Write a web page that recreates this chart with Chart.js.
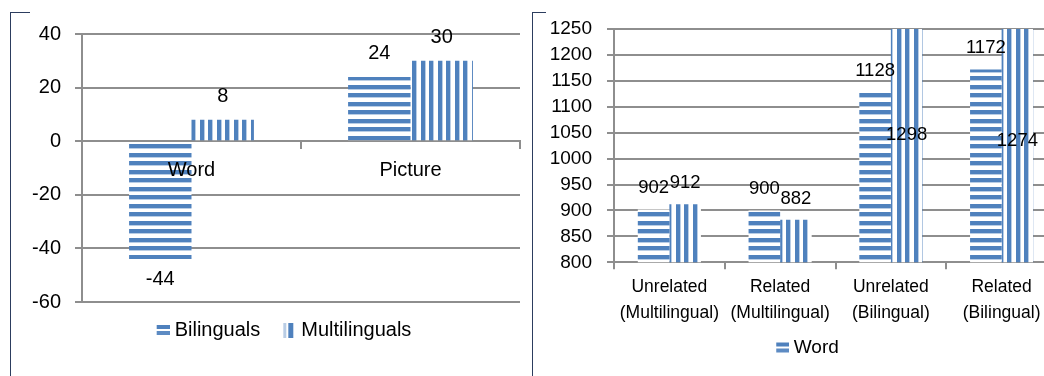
<!DOCTYPE html>
<html>
<head>
<meta charset="utf-8">
<script src="https://cdn.jsdelivr.net/npm/chart.js@4.4.1/dist/chart.umd.min.js"></script>
<style>
  body { margin: 0; background: #fff; width: 1044px; height: 376px; overflow: hidden; position: relative; }
  .wrap { position: absolute; top: 0; }
  .bracket { position: absolute; border-left: 1px solid #2c3d5e; border-top: 1px solid #2c3d5e; }
</style>
</head>
<body>
<div class="bracket" style="left:10px;top:12px;width:19px;height:370px"></div>
<div class="bracket" style="left:532px;top:12px;width:13px;height:370px"></div>
<div class="wrap" style="left:30px"><canvas id="leftChart" width="493" height="376"></canvas></div>
<div class="wrap" style="left:540px"><canvas id="rightChart" width="517" height="376"></canvas></div>
<script>
// left chart: difference scores
const leftCategories = ['Word', 'Picture'];
const bilinguals = [-44, 24];
const multilinguals = [8, 30];
const leftTicks = { min: -60, max: 40, step: 20 };

// right chart: reaction times
const rightCategories = [
  ['Unrelated', '(Multilingual)'],
  ['Related', '(Multilingual)'],
  ['Unrelated', '(Bilingual)'],
  ['Related', '(Bilingual)']
];
const wordTimes = [902, 900, 1128, 1172];
const pictureTimes = [912, 882, 1298, 1274];
const rightTicks = { min: 800, max: 1250, step: 50 };

const BLUE = '#4F81BD';
const LIGHT = '#b9cde5';
const GRID = '#8e8e8e';
const FAMILY = "'Liberation Sans', Arial, sans-serif";

// striped fills
function stripes(vertical) {
  const c = document.createElement('canvas');
  c.width = vertical ? 17 : 4;
  c.height = vertical ? 4 : 17;
  const g = c.getContext('2d');
  g.fillStyle = '#fff';
  g.fillRect(0, 0, c.width, c.height);
  [0, 8].forEach(off => {
    g.fillStyle = BLUE;
    if (vertical) g.fillRect(off, 0, 4, c.height); else g.fillRect(0, off, c.width, 4);
    g.fillStyle = LIGHT;
    if (vertical) g.fillRect(off + 4, 0, 1, c.height); else g.fillRect(0, off + 4, c.width, 1);
  });
  return g.createPattern(c, 'repeat');
}

// legend icons (blank on the left so the gap to the text stays small)
function legendIcon(vertical) {
  const c = document.createElement('canvas');
  c.width = 36;
  c.height = vertical ? 15 : 12;
  const g = c.getContext('2d');
  if (vertical) {
    g.fillStyle = LIGHT;
    g.fillRect(23, 0, 3, 15);
    g.fillStyle = BLUE;
    g.fillRect(28, 0, 5, 15);
  } else {
    g.fillStyle = BLUE;
    g.fillRect(23, 1, 13, 4);
    g.fillStyle = '#5d8bc3';
    g.fillRect(23, 7, 13, 4);
  }
  return c;
}

const hPattern = stripes(false);
const vPattern = stripes(true);

const valueLabels = {
  id: 'valueLabels',
  afterDatasetsDraw(chart, args, opts) {
    const ctx = chart.ctx;
    const y = chart.scales.y;
    ctx.save();
    ctx.font = opts.font;
    ctx.fillStyle = '#000';
    ctx.textAlign = 'center';
    ctx.textBaseline = 'alphabetic';
    chart.data.datasets.forEach((ds, i) => {
      chart.getDatasetMeta(i).data.forEach((bar, j) => {
        const v = ds.data[j];
        let ty;
        if (v > y.max) ty = y.getPixelForValue((y.min + v) / 2) + opts.mid;
        else if (v < 0) ty = bar.y + opts.below;
        else ty = bar.y - opts.above;
        ctx.fillText(String(v), bar.x, ty);
      });
    });
    ctx.restore();
  }
};

function legendLabels(icons, keep) {
  return chart => Chart.defaults.plugins.legend.labels.generateLabels(chart)
    .filter(item => keep.includes(item.datasetIndex))
    .map(item => Object.assign(item, { pointStyle: icons[item.datasetIndex] }));
}

const leftFont = { family: FAMILY, size: 20 };

new Chart(document.getElementById('leftChart'), {
  type: 'bar',
  data: {
    labels: leftCategories,
    datasets: [
      { label: 'Bilinguals', data: bilinguals, backgroundColor: hPattern },
      { label: 'Multilinguals', data: multilinguals, backgroundColor: vPattern }
    ]
  },
  options: {
    responsive: false,
    animation: false,
    categoryPercentage: 0.57,
    barPercentage: 1,
    layout: { padding: { top: 34, right: 3, bottom: 26, left: 0 } },
    scales: {
      x: {
        position: { y: 0 },
        grid: { drawOnChartArea: false, tickLength: 7, color: GRID, lineWidth: 2 },
        border: { color: GRID, width: 2 },
        ticks: { color: '#000', font: leftFont, padding: 10, z: 1 }
      },
      y: {
        min: leftTicks.min,
        max: leftTicks.max,
        afterFit: s => { s.width = 52; },
        grid: { color: GRID, lineWidth: 2, tickLength: 7 },
        border: { color: GRID, width: 2 },
        ticks: { stepSize: leftTicks.step, color: '#000', font: leftFont, padding: 14 }
      }
    },
    plugins: {
      tooltip: { enabled: false },
      legend: {
        position: 'bottom',
        title: { display: true, text: '', padding: { top: 13, bottom: 0 }, font: { size: 0 } },
        labels: {
          usePointStyle: true,
          pointStyleWidth: 26,
          padding: 5,
          color: '#000',
          font: leftFont,
          generateLabels: legendLabels([legendIcon(false), legendIcon(true)], [0, 1])
        }
      },
      valueLabels: { font: '20px ' + FAMILY, above: 18, below: 26, mid: 7 }
    }
  },
  plugins: [valueLabels]
});

new Chart(document.getElementById('rightChart'), {
  type: 'bar',
  data: {
    labels: rightCategories,
    datasets: [
      { label: 'Word', data: wordTimes, backgroundColor: hPattern },
      { label: 'Picture', data: pictureTimes, backgroundColor: vPattern }
    ]
  },
  options: {
    responsive: false,
    animation: false,
    categoryPercentage: 0.57,
    barPercentage: 1,
    layout: { padding: { top: 29, right: 0, bottom: 9, left: 0 } },
    scales: {
      x: {
        grid: { drawOnChartArea: false, tickLength: 7, color: GRID, lineWidth: 2 },
        border: { color: GRID, width: 2 },
        ticks: { color: '#000', font: { family: FAMILY, size: 17.5, lineHeight: 1.49 }, padding: 5, maxRotation: 0, autoSkip: false }
      },
      y: {
        min: rightTicks.min,
        max: rightTicks.max,
        afterFit: s => { s.width = 74; },
        grid: { color: GRID, lineWidth: 2, tickLength: 7 },
        border: { color: GRID, width: 2 },
        ticks: {
          stepSize: rightTicks.step,
          autoSkip: false,
          callback: v => String(v),
          color: '#000',
          font: { family: FAMILY, size: 19 },
          padding: 15
        }
      }
    },
    plugins: {
      tooltip: { enabled: false },
      legend: {
        position: 'bottom',
        title: { display: true, text: '', padding: { top: 1.5, bottom: 0 }, font: { size: 0 } },
        labels: {
          usePointStyle: true,
          pointStyleWidth: 26,
          padding: 5,
          color: '#000',
          font: { family: FAMILY, size: 19 },
          generateLabels: legendLabels([legendIcon(false), legendIcon(true)], [0])
        }
      },
      valueLabels: { font: '18.5px ' + FAMILY, above: 16, below: 26, mid: 7 }
    }
  },
  plugins: [valueLabels]
});
</script>
</body>
</html>
